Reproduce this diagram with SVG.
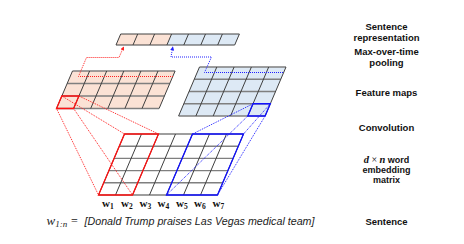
<svg xmlns="http://www.w3.org/2000/svg" width="464" height="244" viewBox="0 0 464 244">
<defs>
<style>
.lbl{font-family:"Liberation Sans",Arial,sans-serif;font-weight:bold;font-size:9.5px;fill:#111;text-anchor:middle}
.sm{font-size:9px}
.h{stroke:#7f7f7f;stroke-width:1.4;fill:none}
.v{stroke:#404040;stroke-width:1;fill:none}
.peach{fill:#fbe2d5}
.blue{fill:#dde9f5}
.rd{stroke:#ff2020;stroke-width:1;stroke-dasharray:1 1;fill:none}
.bd{stroke:#2020ff;stroke-width:1;stroke-dasharray:1 1;fill:none}
.rbox{stroke:#ff1010;stroke-width:1.3;fill:none}
.bbox{stroke:#1010ff;stroke-width:1.3;fill:none}
.w{font-family:"Liberation Serif","Times New Roman",serif;font-weight:bold;font-size:11px;fill:#111}
</style>
<marker id="ar" viewBox="0 0 6 6" refX="5" refY="3" markerWidth="4" markerHeight="4" orient="auto"><path d="M0,0 L6,3 L0,6 z" fill="#ff2020"/></marker>
<marker id="ab" viewBox="0 0 6 6" refX="5" refY="3" markerWidth="4" markerHeight="4" orient="auto"><path d="M0,0 L6,3 L0,6 z" fill="#2020ff"/></marker>
</defs>
<rect width="464" height="244" fill="#fff"/>

<!-- Sentence representation bar -->
<g id="sentence-representation">
<polygon class="peach" points="120.7,34 171.6,34 166.9,45 116,45"/>
<polygon class="blue" points="171.6,34 239.4,34 234.7,45 166.9,45"/>
<path class="v" d="M120.7,34 H239.4 M116,45 H234.7 M120.7,34 L116,45 M137.7,34 L133,45 M154.6,34 L149.9,45 M171.6,34 L166.9,45 M188.5,34 L183.8,45 M205.5,34 L200.8,45 M222.4,34 L217.7,45 M239.4,34 L234.7,45"/>
</g>

<!-- Left feature map -->
<g id="feature-map-left">
<polygon class="peach" points="72.5,71 175.1,71 159.1,108.5 56.5,108.5"/>
<path class="h" d="M72.5,71 H175.1 M67.17,83.5 H169.77 M61.83,96 H164.43 M56.5,108.5 H159.1"/>
<path class="v" d="M72.5,71 L56.5,108.5 M89.6,71 L73.6,108.5 M106.7,71 L90.7,108.5 M123.8,71 L107.8,108.5 M140.9,71 L124.9,108.5 M158,71 L142,108.5 M175.1,71 L159.1,108.5"/>
<polygon class="rbox" points="61.83,96 78.93,96 73.6,108.5 56.5,108.5"/>
</g>

<!-- Right feature map -->
<g id="feature-map-right">
<polygon class="blue" points="199.5,67 286,67 265.1,116 178.6,116"/>
<path class="h" d="M199.5,67 H286 M194.27,79.25 H280.77 M189.05,91.5 H275.55 M183.82,103.75 H270.32 M178.6,116 H265.1"/>
<path class="v" d="M199.5,67 L178.6,116 M216.8,67 L195.9,116 M234.1,67 L213.2,116 M251.4,67 L230.5,116 M268.7,67 L247.8,116 M286,67 L265.1,116"/>
<polygon class="bbox" points="253.02,103.75 270.32,103.75 265.1,116 247.8,116"/>
</g>

<!-- Word embedding matrix -->
<g id="embedding-matrix">
<polygon fill="#fff" points="124.5,134 243.5,134 217.5,195 98.5,195"/>
<path class="h" d="M124.5,134 H243.5 M119.29,146.2 H238.29 M114.09,158.4 H233.09 M108.88,170.6 H227.88 M103.67,182.8 H222.67 M98.5,195 H217.5"/>
<path class="v" d="M124.5,134 L98.5,195 M141.5,134 L115.5,195 M158.5,134 L132.5,195 M175.5,134 L149.5,195 M192.5,134 L166.5,195 M209.5,134 L183.5,195 M226.5,134 L200.5,195 M243.5,134 L217.5,195"/>
<polygon class="rbox" points="124.5,134 158.5,134 132.5,195 98.5,195"/>
<polygon class="bbox" points="192.5,134 243.5,134 217.5,195 166.5,195"/>
</g>

<!-- Connectors -->
<g id="connectors">
<path class="rd" d="M173,76.5 H78.5 L86.5,57.5 H119 L123.6,47" marker-end="url(#ar)"/>
<path class="bd" d="M283,72.5 H204.5 L211.5,57 H171 L172.8,47" marker-end="url(#ab)"/>
<path class="rd" d="M61.83,96 L124.5,134 M78.93,96 L158.5,134 M56.5,108.5 L98.5,195 M73.6,108.5 L132.5,195"/>
<path class="bd" d="M253.02,103.75 L192.5,134 M270.32,103.75 L243.5,134 M247.8,116 L166.5,195 M265.1,116 L217.5,195"/>
</g>

<!-- Word labels -->
<g id="word-labels">
<text class="w" x="102" y="206.5">w<tspan font-size="7.5" dy="2">1</tspan></text>
<text class="w" x="121" y="206.5">w<tspan font-size="7.5" dy="2">2</tspan></text>
<text class="w" x="139.5" y="206.5">w<tspan font-size="7.5" dy="2">3</tspan></text>
<text class="w" x="157.5" y="206.5">w<tspan font-size="7.5" dy="2">4</tspan></text>
<text class="w" x="176" y="206.5">w<tspan font-size="7.5" dy="2">5</tspan></text>
<text class="w" x="194" y="206.5">w<tspan font-size="7.5" dy="2">6</tspan></text>
<text class="w" x="212.5" y="206.5">w<tspan font-size="7.5" dy="2">7</tspan></text>
</g>

<!-- Sentence -->
<g id="sentence">
<text x="46.5" y="224.5" font-family="'Liberation Serif','Times New Roman',serif" font-style="italic" font-size="13" fill="#222">w<tspan font-size="9" dy="2">1:n</tspan></text>
<text x="71" y="224.5" font-family="'Liberation Serif','Times New Roman',serif" font-size="12" fill="#222">=</text>
<text x="84.5" y="224.5" font-family="'Liberation Sans',Arial,sans-serif" font-style="italic" font-size="11.5" fill="#222" textLength="230" lengthAdjust="spacingAndGlyphs">[Donald Trump praises Las Vegas medical team]</text>
</g>

<!-- Right side labels -->
<g id="labels">
<text class="lbl" x="386.5" y="30">Sentence</text>
<text class="lbl" x="386.5" y="40.5">representation</text>
<text class="lbl" x="386.5" y="55">Max-over-time</text>
<text class="lbl" x="386.5" y="65.5">pooling</text>
<text class="lbl" x="386.5" y="95.5">Feature maps</text>
<text class="lbl" x="386.5" y="130.8">Convolution</text>
<text class="lbl sm" x="386.5" y="162.5"><tspan font-family="'Liberation Serif','Times New Roman',serif" font-style="italic" font-size="10.5">d</tspan><tspan font-family="'Liberation Serif','Times New Roman',serif" font-weight="normal" font-size="10"> × </tspan><tspan font-family="'Liberation Serif','Times New Roman',serif" font-style="italic" font-size="10.5">n</tspan> word</text>
<text class="lbl sm" x="386.5" y="173">embedding</text>
<text class="lbl sm" x="386.5" y="183">matrix</text>
<text class="lbl" x="386.5" y="224.5">Sentence</text>
</g>
</svg>
